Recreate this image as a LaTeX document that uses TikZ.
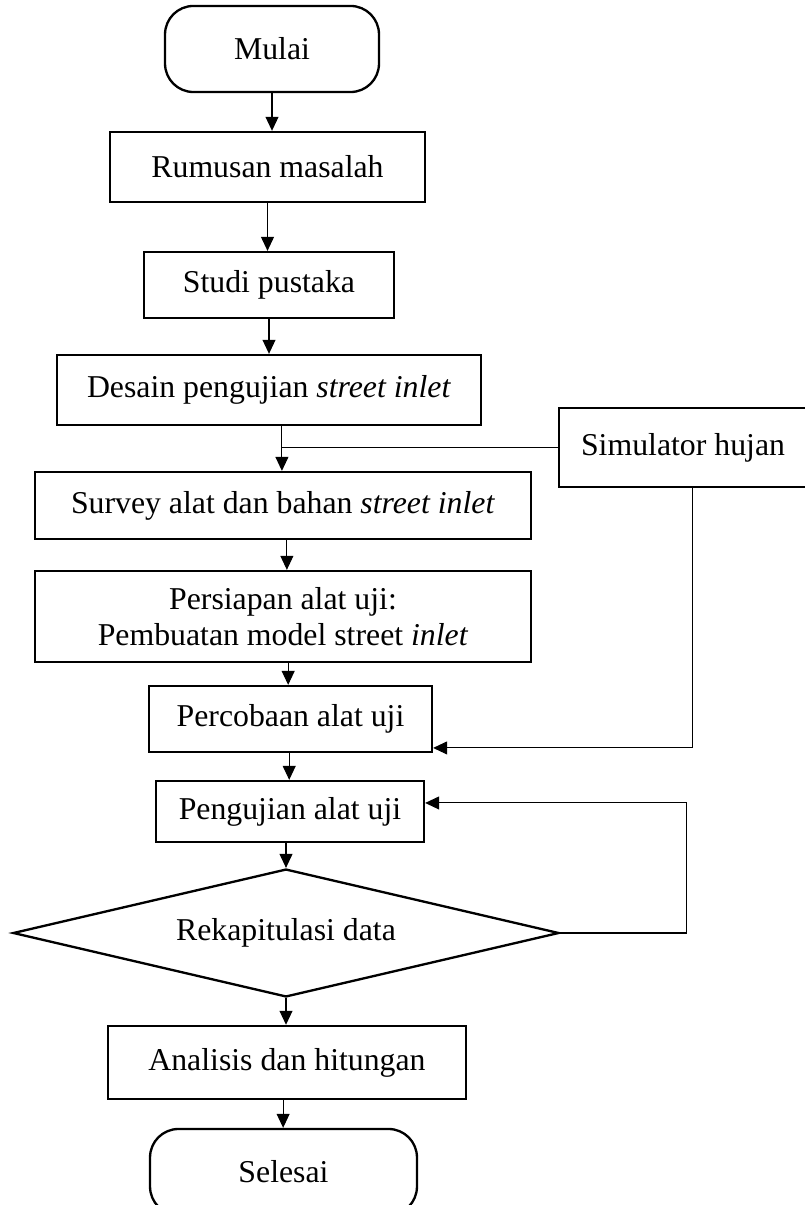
\documentclass[tikz,border=0pt]{standalone}
\usepackage{fontspec}
\setmainfont{Liberation Serif}
\usepackage{tikz}
\usetikzlibrary{shapes, shapes.geometric, arrows.meta, positioning}
\tikzstyle{block} = [draw, rectangle, line width=0.9pt,
    inner sep=0pt, align=center]
\tikzstyle{terminal} = [draw, rectangle, rounded corners=11pt,
    line width=0.9pt, inner sep=0pt]
\tikzstyle{decision} = [draw, diamond, shape aspect=4.27,
    line width=0.9pt, inner sep=0pt]
\tikzstyle{flowArrow} = [line width=0.4pt,
    -{Triangle[length=5.4pt, width=5pt]}]
\tikzstyle{flowLine} = [line width=0.4pt]

\begin{document}
\begin{tikzpicture}[x=0.387pt, y=-0.387pt, font=\fontsize{12.3}{14}\selectfont]
	\useasboundingbox (0,0) rectangle (804,1205);
		\node[terminal, name=mulai, minimum width=82.8pt, minimum height=33.3pt] at (272,49) (mulai) {Mulai};
		\node[block, name=rumusan, minimum width=121.9pt, minimum height=27.1pt] at (267.5,167) (rumusan) {Rumusan masalah};
		\node[block, name=studi, minimum width=96.8pt, minimum height=25.5pt] at (269,285) (studi) {Studi pustaka};
		\node[block, name=desain, minimum width=164.1pt, minimum height=27.1pt] at (269,390) (desain) {Desain pengujian \textit{street inlet}};
		\node[block, name=sim, minimum width=96pt, minimum height=30.6pt] at (683,447.5) (sim) {Simulator hujan};
		\node[block, name=survey, minimum width=191.9pt, minimum height=25.9pt] at (283,505.5) (survey) {Survey alat dan bahan \textit{street inlet}};
		\node[block, name=persiapan, minimum width=191.9pt, minimum height=35.2pt] at (283,616.5) (persiapan) {Persiapan alat uji:\\ Pembuatan model street \textit{inlet}};
		\node[block, name=percobaan, minimum width=109.5pt, minimum height=25.5pt] at (290.5,719) (percobaan) {Percobaan alat uji};
		\node[block, name=pengujian, minimum width=103.7pt, minimum height=23.6pt] at (290,811.5) (pengujian) {Pengujian alat uji};
		\node[decision, name=rekap, minimum width=211.3pt, minimum height=49.5pt] at (286,933) (rekap) {Rekapitulasi data};
		\node[block, name=analisis, minimum width=138.5pt, minimum height=28.3pt] at (287,1062.5) (analisis) {Analisis dan hitungan};
		\node[terminal, name=selesai, minimum width=103.3pt, minimum height=33.3pt] at (283.5,1172) (selesai) {Selesai};

			% main flow
			\draw[flowArrow] (mulai.south) -- (mulai.south |- rumusan.north);
			\draw[flowArrow] (rumusan.south) -- (rumusan.south |- studi.north);
			\draw[flowArrow] (studi.south) -- (studi.south |- desain.north);
			\draw[flowArrow] ([xshift=5pt]desain.south) -- ([xshift=5pt]desain.south |- survey.north);
			\draw[flowLine] (sim.west) -- ([xshift=5pt]desain.south |- sim.west);
			\draw[flowArrow] ([xshift=1.5pt]survey.south) -- ([xshift=1.5pt]survey.south |- persiapan.north);
			\draw[flowArrow] ([xshift=2pt]persiapan.south) -- ([xshift=2pt]persiapan.south |- percobaan.north);
			\draw[flowArrow] ([xshift=3.5pt]sim.south) |- ([yshift=2pt]percobaan.south east);
			\draw[flowArrow] ([xshift=-0.5pt]percobaan.south) -- ([xshift=-0.5pt]percobaan.south |- pengujian.north);
			\draw[flowArrow] (pengujian.south -| rekap.north) -- (rekap.north);
			\draw[flowArrow] (rekap.south) -- (rekap.south |- analisis.north);
			\draw[flowArrow] ([xshift=-1.5pt]analisis.south) -- ([xshift=-1.5pt]analisis.south |- selesai.north);
			% loop back
			\draw[flowArrow] (rekap.east) -- ++(126,0) |- ([yshift=3.3pt]pengujian.east);
\end{tikzpicture}
\end{document}
